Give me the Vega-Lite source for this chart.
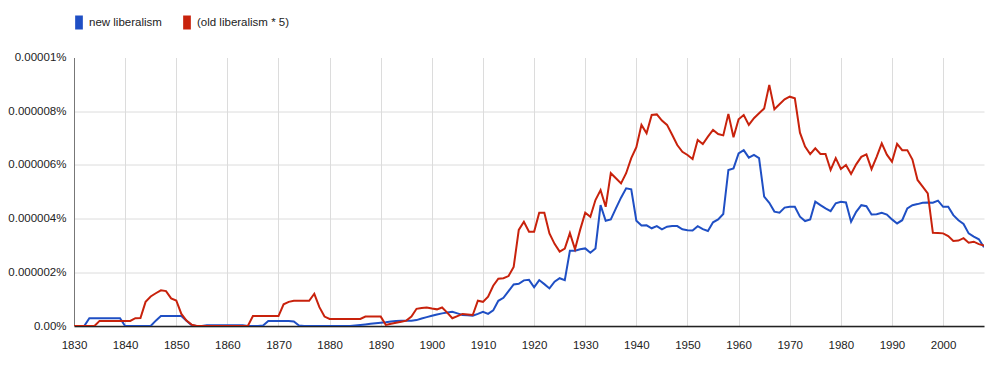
{
  "$schema": "https://vega.github.io/schema/vega-lite/v6.json",
  "width": 910,
  "height": 268.5,
  "autosize": {"type": "none"},
  "padding": {"left": 74, "top": 57.5, "right": 16, "bottom": 54},
  "background": "white",
  "config": {"view": {"stroke": null}, "font": "Liberation Sans"},
  "data": {"values": [
    {"year":1830,"new":0,"old":0},{"year":1831,"new":0,"old":0},{"year":1832,"new":0,"old":0},
    {"year":1833,"new":0.29e-6,"old":0},{"year":1834,"new":0.29e-6,"old":0},{"year":1835,"new":0.29e-6,"old":0.19e-6},
    {"year":1836,"new":0.29e-6,"old":0.19e-6},{"year":1837,"new":0.29e-6,"old":0.19e-6},{"year":1838,"new":0.29e-6,"old":0.19e-6},
    {"year":1839,"new":0.29e-6,"old":0.19e-6},{"year":1840,"new":0,"old":0.19e-6},{"year":1841,"new":0,"old":0.19e-6},
    {"year":1842,"new":0,"old":0.29e-6},{"year":1843,"new":0,"old":0.3e-6},{"year":1844,"new":0,"old":0.9e-6},
    {"year":1845,"new":0,"old":1.1e-6},{"year":1846,"new":0.2e-6,"old":1.22e-6},{"year":1847,"new":0.37e-6,"old":1.33e-6},
    {"year":1848,"new":0.37e-6,"old":1.3e-6},{"year":1849,"new":0.37e-6,"old":1.03e-6},{"year":1850,"new":0.37e-6,"old":0.95e-6},
    {"year":1851,"new":0.37e-6,"old":0.45e-6},{"year":1852,"new":0.2e-6,"old":0.2e-6},{"year":1853,"new":0.03e-6,"old":0.05e-6},
    {"year":1854,"new":0,"old":0},{"year":1855,"new":0,"old":0},{"year":1856,"new":0.03e-6,"old":0},
    {"year":1857,"new":0.03e-6,"old":0},{"year":1858,"new":0.03e-6,"old":0},{"year":1859,"new":0.03e-6,"old":0},
    {"year":1860,"new":0.03e-6,"old":0},{"year":1861,"new":0.03e-6,"old":0},{"year":1862,"new":0.03e-6,"old":0},
    {"year":1863,"new":0.03e-6,"old":0},{"year":1864,"new":0,"old":0},{"year":1865,"new":0,"old":0.37e-6},
    {"year":1866,"new":0,"old":0.37e-6},{"year":1867,"new":0.02e-6,"old":0.37e-6},{"year":1868,"new":0.19e-6,"old":0.37e-6},
    {"year":1869,"new":0.19e-6,"old":0.37e-6},{"year":1870,"new":0.19e-6,"old":0.37e-6},{"year":1871,"new":0.19e-6,"old":0.81e-6},
    {"year":1872,"new":0.19e-6,"old":0.9e-6},{"year":1873,"new":0.17e-6,"old":0.94e-6},{"year":1874,"new":0.02e-6,"old":0.94e-6},
    {"year":1875,"new":0,"old":0.94e-6},{"year":1876,"new":0,"old":0.94e-6},{"year":1877,"new":0,"old":1.2e-6},
    {"year":1878,"new":0,"old":0.7e-6},{"year":1879,"new":0,"old":0.35e-6},{"year":1880,"new":0,"old":0.26e-6},
    {"year":1881,"new":0,"old":0.26e-6},{"year":1882,"new":0,"old":0.26e-6},{"year":1883,"new":0,"old":0.26e-6},
    {"year":1884,"new":0,"old":0.26e-6},{"year":1885,"new":0.02e-6,"old":0.26e-6},{"year":1886,"new":0.04e-6,"old":0.26e-6},
    {"year":1887,"new":0.06e-6,"old":0.35e-6},{"year":1888,"new":0.08e-6,"old":0.35e-6},{"year":1889,"new":0.1e-6,"old":0.35e-6},
    {"year":1890,"new":0.12e-6,"old":0.35e-6},{"year":1891,"new":0.14e-6,"old":0.04e-6},{"year":1892,"new":0.17e-6,"old":0.08e-6},
    {"year":1893,"new":0.19e-6,"old":0.12e-6},{"year":1894,"new":0.2e-6,"old":0.16e-6},{"year":1895,"new":0.2e-6,"old":0.2e-6},
    {"year":1896,"new":0.2e-6,"old":0.35e-6},{"year":1897,"new":0.22e-6,"old":0.64e-6},{"year":1898,"new":0.28e-6,"old":0.67e-6},
    {"year":1899,"new":0.33e-6,"old":0.69e-6},{"year":1900,"new":0.38e-6,"old":0.65e-6},{"year":1901,"new":0.43e-6,"old":0.62e-6},
    {"year":1902,"new":0.47e-6,"old":0.69e-6},{"year":1903,"new":0.5e-6,"old":0.5e-6},{"year":1904,"new":0.53e-6,"old":0.29e-6},
    {"year":1905,"new":0.47e-6,"old":0.37e-6},{"year":1906,"new":0.41e-6,"old":0.45e-6},{"year":1907,"new":0.4e-6,"old":0.43e-6},
    {"year":1908,"new":0.38e-6,"old":0.41e-6},{"year":1909,"new":0.45e-6,"old":0.94e-6},{"year":1910,"new":0.53e-6,"old":0.9e-6},
    {"year":1911,"new":0.45e-6,"old":1.09e-6},{"year":1912,"new":0.58e-6,"old":1.5e-6},{"year":1913,"new":0.94e-6,"old":1.76e-6},
    {"year":1914,"new":1.05e-6,"old":1.78e-6},{"year":1915,"new":1.3e-6,"old":1.86e-6},{"year":1916,"new":1.55e-6,"old":2.2e-6},
    {"year":1917,"new":1.57e-6,"old":3.58e-6},{"year":1918,"new":1.7e-6,"old":3.88e-6},{"year":1919,"new":1.72e-6,"old":3.51e-6},
    {"year":1920,"new":1.44e-6,"old":3.51e-6},{"year":1921,"new":1.71e-6,"old":4.22e-6},{"year":1922,"new":1.56e-6,"old":4.22e-6},
    {"year":1923,"new":1.4e-6,"old":3.45e-6},{"year":1924,"new":1.65e-6,"old":3.06e-6},{"year":1925,"new":1.78e-6,"old":2.77e-6},
    {"year":1926,"new":1.71e-6,"old":2.88e-6},{"year":1927,"new":2.8e-6,"old":3.46e-6},{"year":1928,"new":2.8e-6,"old":2.86e-6},
    {"year":1929,"new":2.86e-6,"old":3.58e-6},{"year":1930,"new":2.89e-6,"old":4.22e-6},{"year":1931,"new":2.73e-6,"old":4.07e-6},
    {"year":1932,"new":2.89e-6,"old":4.69e-6},{"year":1933,"new":4.5e-6,"old":5.06e-6},{"year":1934,"new":3.92e-6,"old":4.44e-6},
    {"year":1935,"new":3.97e-6,"old":5.69e-6},{"year":1936,"new":4.38e-6,"old":5.5e-6},{"year":1937,"new":4.78e-6,"old":5.31e-6},
    {"year":1938,"new":5.13e-6,"old":5.69e-6},{"year":1939,"new":5.09e-6,"old":6.25e-6},{"year":1940,"new":3.92e-6,"old":6.66e-6},
    {"year":1941,"new":3.74e-6,"old":7.49e-6},{"year":1942,"new":3.75e-6,"old":7.18e-6},{"year":1943,"new":3.64e-6,"old":7.86e-6},
    {"year":1944,"new":3.72e-6,"old":7.88e-6},{"year":1945,"new":3.6e-6,"old":7.65e-6},{"year":1946,"new":3.7e-6,"old":7.49e-6},
    {"year":1947,"new":3.72e-6,"old":7.12e-6},{"year":1948,"new":3.72e-6,"old":6.74e-6},{"year":1949,"new":3.6e-6,"old":6.49e-6},
    {"year":1950,"new":3.57e-6,"old":6.37e-6},{"year":1951,"new":3.56e-6,"old":6.22e-6},{"year":1952,"new":3.72e-6,"old":6.93e-6},
    {"year":1953,"new":3.61e-6,"old":6.78e-6},{"year":1954,"new":3.54e-6,"old":7.05e-6},{"year":1955,"new":3.86e-6,"old":7.3e-6},
    {"year":1956,"new":3.97e-6,"old":7.15e-6},{"year":1957,"new":4.17e-6,"old":7.1e-6},{"year":1958,"new":5.81e-6,"old":7.9e-6},
    {"year":1959,"new":5.87e-6,"old":7.03e-6},{"year":1960,"new":6.43e-6,"old":7.7e-6},{"year":1961,"new":6.55e-6,"old":7.86e-6},
    {"year":1962,"new":6.27e-6,"old":7.49e-6},{"year":1963,"new":6.37e-6,"old":7.74e-6},{"year":1964,"new":6.25e-6,"old":7.92e-6},
    {"year":1965,"new":4.82e-6,"old":8.1e-6},{"year":1966,"new":4.59e-6,"old":8.98e-6},{"year":1967,"new":4.26e-6,"old":8.07e-6},
    {"year":1968,"new":4.22e-6,"old":8.26e-6},{"year":1969,"new":4.41e-6,"old":8.44e-6},{"year":1970,"new":4.44e-6,"old":8.54e-6},
    {"year":1971,"new":4.44e-6,"old":8.48e-6},{"year":1972,"new":4.07e-6,"old":7.2e-6},{"year":1973,"new":3.91e-6,"old":6.68e-6},
    {"year":1974,"new":3.97e-6,"old":6.4e-6},{"year":1975,"new":4.63e-6,"old":6.62e-6},{"year":1976,"new":4.5e-6,"old":6.41e-6},
    {"year":1977,"new":4.38e-6,"old":6.41e-6},{"year":1978,"new":4.28e-6,"old":5.81e-6},{"year":1979,"new":4.57e-6,"old":6.25e-6},
    {"year":1980,"new":4.63e-6,"old":5.85e-6},{"year":1981,"new":4.6e-6,"old":6.0e-6},{"year":1982,"new":3.88e-6,"old":5.66e-6},
    {"year":1983,"new":4.25e-6,"old":6.02e-6},{"year":1984,"new":4.5e-6,"old":6.3e-6},{"year":1985,"new":4.46e-6,"old":6.39e-6},
    {"year":1986,"new":4.15e-6,"old":5.84e-6},{"year":1987,"new":4.16e-6,"old":6.3e-6},{"year":1988,"new":4.22e-6,"old":6.8e-6},
    {"year":1989,"new":4.15e-6,"old":6.38e-6},{"year":1990,"new":3.97e-6,"old":6.12e-6},{"year":1991,"new":3.82e-6,"old":6.78e-6},
    {"year":1992,"new":3.94e-6,"old":6.55e-6},{"year":1993,"new":4.38e-6,"old":6.55e-6},{"year":1994,"new":4.5e-6,"old":6.2e-6},
    {"year":1995,"new":4.54e-6,"old":5.44e-6},{"year":1996,"new":4.59e-6,"old":5.19e-6},{"year":1997,"new":4.6e-6,"old":4.94e-6},
    {"year":1998,"new":4.59e-6,"old":3.47e-6},{"year":1999,"new":4.67e-6,"old":3.46e-6},{"year":2000,"new":4.44e-6,"old":3.45e-6},
    {"year":2001,"new":4.44e-6,"old":3.35e-6},{"year":2002,"new":4.13e-6,"old":3.17e-6},{"year":2003,"new":3.94e-6,"old":3.18e-6},
    {"year":2004,"new":3.8e-6,"old":3.27e-6},{"year":2005,"new":3.45e-6,"old":3.1e-6},{"year":2006,"new":3.33e-6,"old":3.14e-6},
    {"year":2007,"new":3.23e-6,"old":3.05e-6},{"year":2008,"new":2.93e-6,"old":3.0e-6}
  ]},
  "transform": [{"fold": ["new", "old"], "as": ["series", "value"]}],
  "mark": {"type": "line", "strokeWidth": 2, "clip": true},
  "encoding": {
    "x": {
      "field": "year", "type": "quantitative",
      "scale": {"domain": [1830, 2008], "nice": false, "zero": false},
      "axis": {
        "values": [1830,1840,1850,1860,1870,1880,1890,1900,1910,1920,1930,1940,1950,1960,1970,1980,1990,2000],
        "format": "d", "title": null, "grid": true, "gridColor": "#dcdcdc", "gridWidth": 1,
        "ticks": false, "labelPadding": 13, "labelFontSize": 11.5, "labelColor": "#222",
        "domainColor": "#222", "domainWidth": 1.5, "labelFlush": false
      }
    },
    "y": {
      "field": "value", "type": "quantitative",
      "scale": {"domain": [0, 0.00001], "nice": false},
      "axis": {
        "values": [0, 0.000002, 0.000004, 0.000006, 0.000008, 0.00001],
        "labelExpr": "datum.value == 0 ? '0.00%' : format(datum.value, '.6~f') + '%'",
        "title": null, "grid": true, "gridColor": "#dcdcdc", "gridWidth": 1,
        "gridOpacity": {"condition": {"test": "datum.value > 0.0000099", "value": 0}, "value": 1},
        "ticks": false, "labelPadding": 8, "labelFontSize": 11.5, "labelColor": "#222",
        "domainColor": "#777", "domainWidth": 1
      }
    },
    "color": {
      "field": "series", "type": "nominal",
      "scale": {"domain": ["new", "old"], "range": ["#1f4fc4", "#c8220c"]},
      "legend": {
        "orient": "none", "legendX": -2, "legendY": -42, "direction": "horizontal",
        "title": null, "padding": 0,
        "labelExpr": "datum.value == 'new' ? 'new liberalism' : '(old liberalism * 5)'",
        "labelFontSize": 11.5, "labelColor": "#222", "labelOffset": 3,
        "columnPadding": 18,
        "symbolType": "M-0.55,-1H0.55V1H-0.55Z", "symbolSize": 196,
        "encode": {"symbols": {"update": {"fill": {"scale": "color", "field": "value"}, "fillOpacity": {"value": 1}, "strokeWidth": {"value": 0}}}}
      }
    }
  }
}
